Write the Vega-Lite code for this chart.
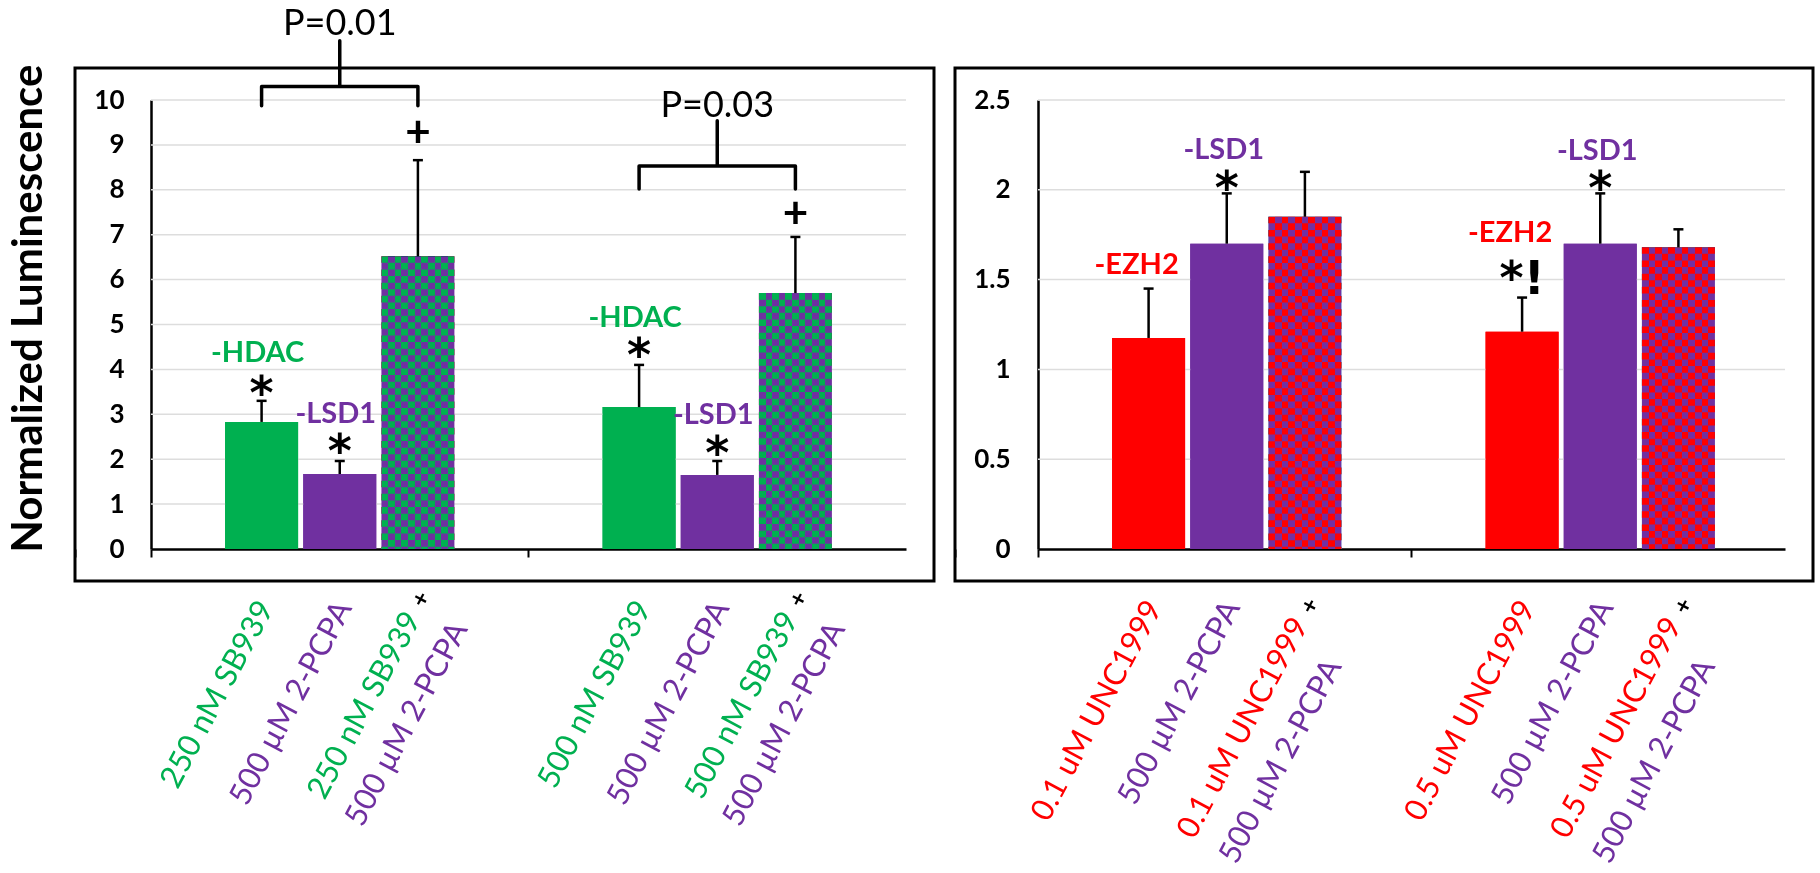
{
"$schema": "https://vega.github.io/schema/vega-lite/v6.json",
"background": "white",
"padding": {"left": 6, "top": 4, "right": 0, "bottom": 0},
"config": {"view": {"stroke": "black", "strokeWidth": 3}, "font": "Lato"},
"datasets": {
 "barsL": [
  {"group": "250 nM", "bar": "inhibitor", "kind": "sb", "value": 2.83, "upper": 3.3},
  {"group": "250 nM", "bar": "pcpa", "kind": "pcpa", "value": 1.67, "upper": 1.96},
  {"group": "250 nM", "bar": "combo", "kind": "combo", "value": 6.52, "upper": 8.66},
  {"group": "500 nM", "bar": "inhibitor", "kind": "sb", "value": 3.16, "upper": 4.1},
  {"group": "500 nM", "bar": "pcpa", "kind": "pcpa", "value": 1.65, "upper": 1.96},
  {"group": "500 nM", "bar": "combo", "kind": "combo", "value": 5.7, "upper": 6.95}
 ],
 "barsR": [
  {"group": "0.1 uM", "bar": "inhibitor", "kind": "unc", "value": 1.175, "upper": 1.45},
  {"group": "0.1 uM", "bar": "pcpa", "kind": "pcpa", "value": 1.7, "upper": 1.98},
  {"group": "0.1 uM", "bar": "combo", "kind": "combo", "value": 1.85, "upper": 2.1},
  {"group": "0.5 uM", "bar": "inhibitor", "kind": "unc", "value": 1.21, "upper": 1.4},
  {"group": "0.5 uM", "bar": "pcpa", "kind": "pcpa", "value": 1.7, "upper": 1.98},
  {"group": "0.5 uM", "bar": "combo", "kind": "combo", "value": 1.68, "upper": 1.78}
 ],
 "gridL": [{"tick": 1}, {"tick": 2}, {"tick": 3}, {"tick": 4}, {"tick": 5}, {"tick": 6}, {"tick": 7}, {"tick": 8}, {"tick": 9}, {"tick": 10}],
 "gridR": [{"tick": 0.5}, {"tick": 1}, {"tick": 1.5}, {"tick": 2}, {"tick": 2.5}],
 "annL": [
  {"group": "250 nM", "bar": "inhibitor", "y": 4.39, "label": "-HDAC", "role": "tag", "kind": "sb"},
  {"group": "250 nM", "bar": "inhibitor", "y": 3.67, "label": "*", "role": "star", "kind": "black"},
  {"group": "250 nM", "bar": "pcpa", "y": 3.03, "label": "-LSD1", "role": "tag", "kind": "pcpa"},
  {"group": "250 nM", "bar": "pcpa", "y": 2.38, "label": "*", "role": "star", "kind": "black"},
  {"group": "250 nM", "bar": "combo", "y": 9.31, "label": "+", "role": "plus", "kind": "black"},
  {"group": "500 nM", "bar": "inhibitor", "y": 5.17, "label": "-HDAC", "role": "tag", "kind": "sb"},
  {"group": "500 nM", "bar": "inhibitor", "y": 4.52, "label": "*", "role": "star", "kind": "black"},
  {"group": "500 nM", "bar": "pcpa", "y": 3.0, "label": "-LSD1", "role": "tag", "kind": "pcpa"},
  {"group": "500 nM", "bar": "pcpa", "y": 2.34, "label": "*", "role": "star", "kind": "black"},
  {"group": "500 nM", "bar": "combo", "y": 7.5, "label": "+", "role": "plus", "kind": "black"},
  {"group": "250 nM", "bar": "pcpa", "y": 11.73, "label": "P=0.01", "role": "p", "kind": "black"},
  {"group": "500 nM", "bar": "pcpa", "y": 9.91, "label": "P=0.03", "role": "p", "kind": "black"}
 ],
 "annR": [
  {"group": "0.1 uM", "bar": "inhibitor", "y": 1.587, "label": "-EZH2", "role": "tag", "kind": "unc"},
  {"group": "0.1 uM", "bar": "pcpa", "y": 2.227, "label": "-LSD1", "role": "tag", "kind": "pcpa"},
  {"group": "0.1 uM", "bar": "pcpa", "y": 2.06, "label": "*", "role": "star", "kind": "black"},
  {"group": "0.5 uM", "bar": "inhibitor", "y": 1.765, "label": "-EZH2", "role": "tag", "kind": "unc"},
  {"group": "0.5 uM", "bar": "inhibitor", "y": 1.56, "label": "*!", "role": "star", "kind": "black"},
  {"group": "0.5 uM", "bar": "pcpa", "y": 2.22, "label": "-LSD1", "role": "tag", "kind": "pcpa"},
  {"group": "0.5 uM", "bar": "pcpa", "y": 2.06, "label": "*", "role": "star", "kind": "black"}
 ],
 "bracketsL": [
  {"id": "p1", "seq": 1, "group": "250 nM", "bar": "inhibitor", "y": 9.87},
  {"id": "p1", "seq": 2, "group": "250 nM", "bar": "inhibitor", "y": 10.3},
  {"id": "p1", "seq": 3, "group": "250 nM", "bar": "pcpa", "y": 10.3},
  {"id": "p1", "seq": 4, "group": "250 nM", "bar": "pcpa", "y": 11.32},
  {"id": "p1", "seq": 5, "group": "250 nM", "bar": "pcpa", "y": 10.3},
  {"id": "p1", "seq": 6, "group": "250 nM", "bar": "combo", "y": 10.3},
  {"id": "p1", "seq": 7, "group": "250 nM", "bar": "combo", "y": 9.87},
  {"id": "p2", "seq": 1, "group": "500 nM", "bar": "inhibitor", "y": 8.02},
  {"id": "p2", "seq": 2, "group": "500 nM", "bar": "inhibitor", "y": 8.53},
  {"id": "p2", "seq": 3, "group": "500 nM", "bar": "pcpa", "y": 8.53},
  {"id": "p2", "seq": 4, "group": "500 nM", "bar": "pcpa", "y": 9.54},
  {"id": "p2", "seq": 5, "group": "500 nM", "bar": "pcpa", "y": 8.53},
  {"id": "p2", "seq": 6, "group": "500 nM", "bar": "combo", "y": 8.53},
  {"id": "p2", "seq": 7, "group": "500 nM", "bar": "combo", "y": 8.02}
 ],
 "labelsL": [
  {"group": "250 nM", "bar": "inhibitor", "line": "single", "text": "250 nM SB939", "kind": "sb"},
  {"group": "250 nM", "bar": "pcpa", "line": "single", "text": "500 µM 2-PCPA", "kind": "pcpa"},
  {"group": "250 nM", "bar": "combo", "line": "first", "text": "250 nM SB939", "kind": "sb"},
  {"group": "250 nM", "bar": "combo", "line": "plus", "text": "+", "kind": "black"},
  {"group": "250 nM", "bar": "combo", "line": "second", "text": "500 µM 2-PCPA", "kind": "pcpa"},
  {"group": "500 nM", "bar": "inhibitor", "line": "single", "text": "500 nM SB939", "kind": "sb"},
  {"group": "500 nM", "bar": "pcpa", "line": "single", "text": "500 µM 2-PCPA", "kind": "pcpa"},
  {"group": "500 nM", "bar": "combo", "line": "first", "text": "500 nM SB939", "kind": "sb"},
  {"group": "500 nM", "bar": "combo", "line": "plus", "text": "+", "kind": "black"},
  {"group": "500 nM", "bar": "combo", "line": "second", "text": "500 µM 2-PCPA", "kind": "pcpa"}
 ],
 "labelsR": [
  {"group": "0.1 uM", "bar": "inhibitor", "line": "single", "text": "0.1 uM UNC1999", "kind": "unc"},
  {"group": "0.1 uM", "bar": "pcpa", "line": "single", "text": "500 µM 2-PCPA", "kind": "pcpa"},
  {"group": "0.1 uM", "bar": "combo", "line": "first", "text": "0.1 uM UNC1999", "kind": "unc"},
  {"group": "0.1 uM", "bar": "combo", "line": "plus", "text": "+", "kind": "black"},
  {"group": "0.1 uM", "bar": "combo", "line": "second", "text": "500 µM 2-PCPA", "kind": "pcpa"},
  {"group": "0.5 uM", "bar": "inhibitor", "line": "single", "text": "0.5 uM UNC1999", "kind": "unc"},
  {"group": "0.5 uM", "bar": "pcpa", "line": "single", "text": "500 µM 2-PCPA", "kind": "pcpa"},
  {"group": "0.5 uM", "bar": "combo", "line": "first", "text": "0.5 uM UNC1999", "kind": "unc"},
  {"group": "0.5 uM", "bar": "combo", "line": "plus", "text": "+", "kind": "black"},
  {"group": "0.5 uM", "bar": "combo", "line": "second", "text": "500 µM 2-PCPA", "kind": "pcpa"}
 ]
},
"hconcat": [
 {
  "width": 859, "height": 513,
  "layer": [
   {"data": {"name": "barsL"}, "transform": [{"filter": "datum.bar !== 'combo'"}],
    "mark": {"type": "bar", "width": 73},
    "encoding": {
     "x": {"field": "group", "type": "nominal", "scale": {"domain": ["250 nM", "500 nM"], "range": [76, 831], "paddingInner": 0, "paddingOuter": 0},
       "axis": {"title": null, "labels": false, "domainColor": "black", "domainWidth": 2.5, "ticks": true, "tickColor": "black", "tickWidth": 2, "tickSize": 8, "bandPosition": 0, "tickExtra": true, "offset": -32, "grid": false}},
     "xOffset": {"field": "bar", "type": "nominal", "scale": {"domain": ["inhibitor", "pcpa", "combo"], "paddingInner": 0.07, "paddingOuter": 0.95}},
     "y": {"field": "value", "type": "quantitative", "scale": {"domain": [0, 10], "range": [481, 32], "nice": false, "zero": false},
       "axis": {"title": "Normalized Luminescence", "titleFont": "Lato", "titleFontSize": 42, "titleFontWeight": "bold", "titleColor": "black", "titlePadding": 43, "titleY": 240, "values": [0, 1, 2, 3, 4, 5, 6, 7, 8, 9, 10], "format": "d", "labelFont": "Lato", "labelFontSize": 26, "labelFontWeight": "bold", "labelColor": "black", "labelPadding": 27, "ticks": false, "tickSize": 0, "domainColor": "black", "domainWidth": 2.5, "grid": false, "offset": -76}},
     "color": {"field": "kind", "type": "nominal", "scale": {"domain": ["sb", "unc", "pcpa", "black"], "range": ["#00B050", "#FF0000", "#7030A0", "#000000"]}, "legend": null}}},
   {"data": {"name": "gridL"},
    "mark": {"type": "rule", "stroke": "#DDDDDD", "strokeWidth": 1.5},
    "encoding": {
     "x": {"datum": "250 nM", "type": "nominal", "bandPosition": 0, "scale": {"domain": ["250 nM", "500 nM"], "range": [76, 831], "paddingInner": 0, "paddingOuter": 0}},
     "x2": {"datum": "500 nM", "bandPosition": 1},
     "y": {"field": "tick", "type": "quantitative", "scale": {"domain": [0, 10], "range": [481, 32], "nice": false, "zero": false}}}},
   {"data": {"name": "barsL"}, "transform": [{"filter": "datum.bar !== 'combo'"}],
    "mark": {"type": "bar", "width": 73},
    "encoding": {
     "x": {"field": "group", "type": "nominal", "scale": {"domain": ["250 nM", "500 nM"], "range": [76, 831], "paddingInner": 0, "paddingOuter": 0}},
     "xOffset": {"field": "bar", "type": "nominal", "scale": {"domain": ["inhibitor", "pcpa", "combo"], "paddingInner": 0.07, "paddingOuter": 0.95}},
     "y": {"field": "value", "type": "quantitative", "scale": {"domain": [0, 10], "range": [481, 32], "nice": false, "zero": false}},
     "color": {"field": "kind", "type": "nominal", "scale": {"domain": ["sb", "unc", "pcpa", "black"], "range": ["#00B050", "#FF0000", "#7030A0", "#000000"]}, "legend": null}}},
   {"data": {"name": "barsL"}, "transform": [{"filter": "datum.bar === 'combo'"}],
    "mark": {"type": "bar", "width": 73, "fill": {"gradient": "linear", "x1": 0, "y1": 0, "x2": 1, "y2": 0, "stops": [
      {"offset": 0, "color": "#7030A0"}, {"offset": 0.0909, "color": "#7030A0"}, {"offset": 0.0909, "color": "#00B050"}, {"offset": 0.1818, "color": "#00B050"},
      {"offset": 0.1818, "color": "#7030A0"}, {"offset": 0.2727, "color": "#7030A0"}, {"offset": 0.2727, "color": "#00B050"}, {"offset": 0.3636, "color": "#00B050"},
      {"offset": 0.3636, "color": "#7030A0"}, {"offset": 0.4545, "color": "#7030A0"}, {"offset": 0.4545, "color": "#00B050"}, {"offset": 0.5455, "color": "#00B050"},
      {"offset": 0.5455, "color": "#7030A0"}, {"offset": 0.6364, "color": "#7030A0"}, {"offset": 0.6364, "color": "#00B050"}, {"offset": 0.7273, "color": "#00B050"},
      {"offset": 0.7273, "color": "#7030A0"}, {"offset": 0.8182, "color": "#7030A0"}, {"offset": 0.8182, "color": "#00B050"}, {"offset": 0.9091, "color": "#00B050"},
      {"offset": 0.9091, "color": "#7030A0"}, {"offset": 1, "color": "#7030A0"}]}},
    "encoding": {
     "x": {"field": "group", "type": "nominal", "scale": {"domain": ["250 nM", "500 nM"], "range": [76, 831], "paddingInner": 0, "paddingOuter": 0}},
     "xOffset": {"field": "bar", "type": "nominal", "scale": {"domain": ["inhibitor", "pcpa", "combo"], "paddingInner": 0.07, "paddingOuter": 0.95}},
     "y": {"field": "value", "type": "quantitative", "scale": {"domain": [0, 10], "range": [481, 32], "nice": false, "zero": false}}}},
   {"data": {"name": "barsL"}, "transform": [{"filter": "datum.bar === 'combo'"}],
    "mark": {"type": "rule", "stroke": "#70E0F0", "strokeWidth": 73, "strokeDash": [6.6, 6.6], "blend": "difference"},
    "encoding": {
     "x": {"field": "group", "type": "nominal", "scale": {"domain": ["250 nM", "500 nM"], "range": [76, 831], "paddingInner": 0, "paddingOuter": 0}},
     "xOffset": {"field": "bar", "type": "nominal", "scale": {"domain": ["inhibitor", "pcpa", "combo"], "paddingInner": 0.07, "paddingOuter": 0.95}},
     "y": {"field": "value", "type": "quantitative", "scale": {"domain": [0, 10], "range": [481, 32], "nice": false, "zero": false}},
     "y2": {"datum": 0}}},
   {"data": {"name": "barsL"},
    "mark": {"type": "rule", "stroke": "black", "strokeWidth": 2.5},
    "encoding": {
     "x": {"field": "group", "type": "nominal", "scale": {"domain": ["250 nM", "500 nM"], "range": [76, 831], "paddingInner": 0, "paddingOuter": 0}},
     "xOffset": {"field": "bar", "type": "nominal", "scale": {"domain": ["inhibitor", "pcpa", "combo"], "paddingInner": 0.07, "paddingOuter": 0.95}},
     "y": {"field": "value", "type": "quantitative", "scale": {"domain": [0, 10], "range": [481, 32], "nice": false, "zero": false}},
     "y2": {"field": "upper"}}},
   {"data": {"name": "barsL"},
    "mark": {"type": "tick", "color": "black", "size": 10, "thickness": 2.5, "orient": "horizontal", "opacity": 1},
    "encoding": {
     "x": {"field": "group", "type": "nominal", "scale": {"domain": ["250 nM", "500 nM"], "range": [76, 831], "paddingInner": 0, "paddingOuter": 0}},
     "xOffset": {"field": "bar", "type": "nominal", "scale": {"domain": ["inhibitor", "pcpa", "combo"], "paddingInner": 0.07, "paddingOuter": 0.95}},
     "y": {"field": "upper", "type": "quantitative", "scale": {"domain": [0, 10], "range": [481, 32], "nice": false, "zero": false}}}},
   {"data": {"name": "bracketsL"},
    "mark": {"type": "line", "color": "black", "strokeWidth": 3.5, "strokeJoin": "round", "strokeCap": "round"},
    "encoding": {
     "x": {"field": "group", "type": "nominal", "scale": {"domain": ["250 nM", "500 nM"], "range": [76, 831], "paddingInner": 0, "paddingOuter": 0}},
     "xOffset": {"field": "bar", "type": "nominal", "scale": {"domain": ["inhibitor", "pcpa", "combo"], "paddingInner": 0.07, "paddingOuter": 0.95}},
     "y": {"field": "y", "type": "quantitative", "scale": {"domain": [0, 10], "range": [481, 32], "nice": false, "zero": false}},
     "detail": {"field": "id"},
     "order": {"field": "seq", "type": "quantitative"}}},
   {"data": {"name": "annL"}, "transform": [{"filter": "datum.role === 'tag'"}],
    "mark": {"type": "text", "font": "Lato", "fontSize": 29, "fontWeight": "bold", "baseline": "alphabetic", "dx": -4, "dy": 10},
    "encoding": {
     "x": {"field": "group", "type": "nominal", "scale": {"domain": ["250 nM", "500 nM"], "range": [76, 831], "paddingInner": 0, "paddingOuter": 0}},
     "xOffset": {"field": "bar", "type": "nominal", "scale": {"domain": ["inhibitor", "pcpa", "combo"], "paddingInner": 0.07, "paddingOuter": 0.95}},
     "y": {"field": "y", "type": "quantitative", "scale": {"domain": [0, 10], "range": [481, 32], "nice": false, "zero": false}},
     "text": {"field": "label"},
     "color": {"field": "kind", "type": "nominal", "scale": {"domain": ["sb", "unc", "pcpa", "black"], "range": ["#00B050", "#FF0000", "#7030A0", "#000000"]}, "legend": null}}},
   {"data": {"name": "annL"}, "transform": [{"filter": "datum.role === 'star'"}],
    "mark": {"type": "text", "font": "DejaVu Sans", "fontSize": 46, "fontWeight": "bold", "baseline": "alphabetic", "dy": 25, "color": "black"},
    "encoding": {
     "x": {"field": "group", "type": "nominal", "scale": {"domain": ["250 nM", "500 nM"], "range": [76, 831], "paddingInner": 0, "paddingOuter": 0}},
     "xOffset": {"field": "bar", "type": "nominal", "scale": {"domain": ["inhibitor", "pcpa", "combo"], "paddingInner": 0.07, "paddingOuter": 0.95}},
     "y": {"field": "y", "type": "quantitative", "scale": {"domain": [0, 10], "range": [481, 32], "nice": false, "zero": false}},
     "text": {"field": "label"}}},
   {"data": {"name": "annL"}, "transform": [{"filter": "datum.role === 'plus'"}],
    "mark": {"type": "text", "font": "Lato", "fontSize": 44, "fontWeight": "bold", "baseline": "alphabetic", "dy": 16, "color": "black"},
    "encoding": {
     "x": {"field": "group", "type": "nominal", "scale": {"domain": ["250 nM", "500 nM"], "range": [76, 831], "paddingInner": 0, "paddingOuter": 0}},
     "xOffset": {"field": "bar", "type": "nominal", "scale": {"domain": ["inhibitor", "pcpa", "combo"], "paddingInner": 0.07, "paddingOuter": 0.95}},
     "y": {"field": "y", "type": "quantitative", "scale": {"domain": [0, 10], "range": [481, 32], "nice": false, "zero": false}},
     "text": {"field": "label"}}},
   {"data": {"name": "annL"}, "transform": [{"filter": "datum.role === 'p'"}],
    "mark": {"type": "text", "font": "Lato", "fontSize": 36, "baseline": "alphabetic", "dy": 13, "color": "black"},
    "encoding": {
     "x": {"field": "group", "type": "nominal", "scale": {"domain": ["250 nM", "500 nM"], "range": [76, 831], "paddingInner": 0, "paddingOuter": 0}},
     "xOffset": {"field": "bar", "type": "nominal", "scale": {"domain": ["inhibitor", "pcpa", "combo"], "paddingInner": 0.07, "paddingOuter": 0.95}},
     "y": {"field": "y", "type": "quantitative", "scale": {"domain": [0, 10], "range": [481, 32], "nice": false, "zero": false}},
     "text": {"field": "label"}}},
   {"data": {"name": "labelsL"}, "transform": [{"filter": "datum.line === 'single'"}],
    "mark": {"type": "text", "font": "Lato", "fontSize": 31, "angle": 298, "align": "right", "baseline": "middle", "dx": -46, "dy": 30},
    "encoding": {
     "x": {"field": "group", "type": "nominal", "scale": {"domain": ["250 nM", "500 nM"], "range": [76, 831], "paddingInner": 0, "paddingOuter": 0}},
     "xOffset": {"field": "bar", "type": "nominal", "scale": {"domain": ["inhibitor", "pcpa", "combo"], "paddingInner": 0.07, "paddingOuter": 0.95}},
     "y": {"datum": 0, "type": "quantitative", "scale": {"domain": [0, 10], "range": [481, 32], "nice": false, "zero": false}},
     "text": {"field": "text"},
     "color": {"field": "kind", "type": "nominal", "scale": {"domain": ["sb", "unc", "pcpa", "black"], "range": ["#00B050", "#FF0000", "#7030A0", "#000000"]}, "legend": null}}},
   {"data": {"name": "labelsL"}, "transform": [{"filter": "datum.line === 'first'"}],
    "mark": {"type": "text", "font": "Lato", "fontSize": 31, "angle": 298, "align": "right", "baseline": "middle", "dx": -60, "dy": 27},
    "encoding": {
     "x": {"field": "group", "type": "nominal", "scale": {"domain": ["250 nM", "500 nM"], "range": [76, 831], "paddingInner": 0, "paddingOuter": 0}},
     "xOffset": {"field": "bar", "type": "nominal", "scale": {"domain": ["inhibitor", "pcpa", "combo"], "paddingInner": 0.07, "paddingOuter": 0.95}},
     "y": {"datum": 0, "type": "quantitative", "scale": {"domain": [0, 10], "range": [481, 32], "nice": false, "zero": false}},
     "text": {"field": "text"},
     "color": {"field": "kind", "type": "nominal", "scale": {"domain": ["sb", "unc", "pcpa", "black"], "range": ["#00B050", "#FF0000", "#7030A0", "#000000"]}, "legend": null}}},
   {"data": {"name": "labelsL"}, "transform": [{"filter": "datum.line === 'plus'"}],
    "mark": {"type": "text", "font": "Lato", "fontSize": 24, "fontWeight": "bold", "angle": 298, "align": "center", "baseline": "middle", "dx": -43, "dy": 27, "color": "black"},
    "encoding": {
     "x": {"field": "group", "type": "nominal", "scale": {"domain": ["250 nM", "500 nM"], "range": [76, 831], "paddingInner": 0, "paddingOuter": 0}},
     "xOffset": {"field": "bar", "type": "nominal", "scale": {"domain": ["inhibitor", "pcpa", "combo"], "paddingInner": 0.07, "paddingOuter": 0.95}},
     "y": {"datum": 0, "type": "quantitative", "scale": {"domain": [0, 10], "range": [481, 32], "nice": false, "zero": false}},
     "text": {"field": "text"}}},
   {"data": {"name": "labelsL"}, "transform": [{"filter": "datum.line === 'second'"}],
    "mark": {"type": "text", "font": "Lato", "fontSize": 31, "angle": 298, "align": "right", "baseline": "middle", "dx": -47, "dy": 73},
    "encoding": {
     "x": {"field": "group", "type": "nominal", "scale": {"domain": ["250 nM", "500 nM"], "range": [76, 831], "paddingInner": 0, "paddingOuter": 0}},
     "xOffset": {"field": "bar", "type": "nominal", "scale": {"domain": ["inhibitor", "pcpa", "combo"], "paddingInner": 0.07, "paddingOuter": 0.95}},
     "y": {"datum": 0, "type": "quantitative", "scale": {"domain": [0, 10], "range": [481, 32], "nice": false, "zero": false}},
     "text": {"field": "text"},
     "color": {"field": "kind", "type": "nominal", "scale": {"domain": ["sb", "unc", "pcpa", "black"], "range": ["#00B050", "#FF0000", "#7030A0", "#000000"]}, "legend": null}}}
  ]
 },
 {
  "width": 858, "height": 513,
  "layer": [
   {"data": {"name": "barsR"}, "transform": [{"filter": "datum.bar !== 'combo'"}],
    "mark": {"type": "bar", "width": 73},
    "encoding": {
     "x": {"field": "group", "type": "nominal", "scale": {"domain": ["0.1 uM", "0.5 uM"], "range": [83, 830], "paddingInner": 0, "paddingOuter": 0},
       "axis": {"title": null, "labels": false, "domainColor": "black", "domainWidth": 2.5, "ticks": true, "tickColor": "black", "tickWidth": 2, "tickSize": 8, "bandPosition": 0, "tickExtra": true, "offset": -32, "grid": false}},
     "xOffset": {"field": "bar", "type": "nominal", "scale": {"domain": ["inhibitor", "pcpa", "combo"], "paddingInner": 0.07, "paddingOuter": 0.95}},
     "y": {"field": "value", "type": "quantitative", "scale": {"domain": [0, 2.5], "range": [481, 32], "nice": false, "zero": false},
       "axis": {"title": null, "values": [0, 0.5, 1, 1.5, 2, 2.5], "format": ".1~f", "labelFont": "Lato", "labelFontSize": 26, "labelFontWeight": "bold", "labelColor": "black", "labelPadding": 28, "ticks": false, "tickSize": 0, "domainColor": "black", "domainWidth": 2.5, "grid": false, "offset": -83}},
     "color": {"field": "kind", "type": "nominal", "scale": {"domain": ["sb", "unc", "pcpa", "black"], "range": ["#00B050", "#FF0000", "#7030A0", "#000000"]}, "legend": null}}},
   {"data": {"name": "gridR"},
    "mark": {"type": "rule", "stroke": "#DDDDDD", "strokeWidth": 1.5},
    "encoding": {
     "x": {"datum": "0.1 uM", "type": "nominal", "bandPosition": 0, "scale": {"domain": ["0.1 uM", "0.5 uM"], "range": [83, 830], "paddingInner": 0, "paddingOuter": 0}},
     "x2": {"datum": "0.5 uM", "bandPosition": 1},
     "y": {"field": "tick", "type": "quantitative", "scale": {"domain": [0, 2.5], "range": [481, 32], "nice": false, "zero": false}}}},
   {"data": {"name": "barsR"}, "transform": [{"filter": "datum.bar !== 'combo'"}],
    "mark": {"type": "bar", "width": 73},
    "encoding": {
     "x": {"field": "group", "type": "nominal", "scale": {"domain": ["0.1 uM", "0.5 uM"], "range": [83, 830], "paddingInner": 0, "paddingOuter": 0}},
     "xOffset": {"field": "bar", "type": "nominal", "scale": {"domain": ["inhibitor", "pcpa", "combo"], "paddingInner": 0.07, "paddingOuter": 0.95}},
     "y": {"field": "value", "type": "quantitative", "scale": {"domain": [0, 2.5], "range": [481, 32], "nice": false, "zero": false}},
     "color": {"field": "kind", "type": "nominal", "scale": {"domain": ["sb", "unc", "pcpa", "black"], "range": ["#00B050", "#FF0000", "#7030A0", "#000000"]}, "legend": null}}},
   {"data": {"name": "barsR"}, "transform": [{"filter": "datum.bar === 'combo'"}],
    "mark": {"type": "bar", "width": 73, "fill": {"gradient": "linear", "x1": 0, "y1": 0, "x2": 1, "y2": 0, "stops": [
      {"offset": 0, "color": "#00FFFF"}, {"offset": 0.0909, "color": "#00FFFF"}, {"offset": 0.0909, "color": "#FF0000"}, {"offset": 0.1818, "color": "#FF0000"},
      {"offset": 0.1818, "color": "#00FFFF"}, {"offset": 0.2727, "color": "#00FFFF"}, {"offset": 0.2727, "color": "#FF0000"}, {"offset": 0.3636, "color": "#FF0000"},
      {"offset": 0.3636, "color": "#00FFFF"}, {"offset": 0.4545, "color": "#00FFFF"}, {"offset": 0.4545, "color": "#FF0000"}, {"offset": 0.5455, "color": "#FF0000"},
      {"offset": 0.5455, "color": "#00FFFF"}, {"offset": 0.6364, "color": "#00FFFF"}, {"offset": 0.6364, "color": "#FF0000"}, {"offset": 0.7273, "color": "#FF0000"},
      {"offset": 0.7273, "color": "#00FFFF"}, {"offset": 0.8182, "color": "#00FFFF"}, {"offset": 0.8182, "color": "#FF0000"}, {"offset": 0.9091, "color": "#FF0000"},
      {"offset": 0.9091, "color": "#00FFFF"}, {"offset": 1, "color": "#00FFFF"}]}},
    "encoding": {
     "x": {"field": "group", "type": "nominal", "scale": {"domain": ["0.1 uM", "0.5 uM"], "range": [83, 830], "paddingInner": 0, "paddingOuter": 0}},
     "xOffset": {"field": "bar", "type": "nominal", "scale": {"domain": ["inhibitor", "pcpa", "combo"], "paddingInner": 0.07, "paddingOuter": 0.95}},
     "y": {"field": "value", "type": "quantitative", "scale": {"domain": [0, 2.5], "range": [481, 32], "nice": false, "zero": false}}}},
   {"data": {"name": "barsR"}, "transform": [{"filter": "datum.bar === 'combo'"}],
    "mark": {"type": "rule", "stroke": "#FFFFFF", "strokeWidth": 73, "strokeDash": [6.6, 6.6], "blend": "difference"},
    "encoding": {
     "x": {"field": "group", "type": "nominal", "scale": {"domain": ["0.1 uM", "0.5 uM"], "range": [83, 830], "paddingInner": 0, "paddingOuter": 0}},
     "xOffset": {"field": "bar", "type": "nominal", "scale": {"domain": ["inhibitor", "pcpa", "combo"], "paddingInner": 0.07, "paddingOuter": 0.95}},
     "y": {"field": "value", "type": "quantitative", "scale": {"domain": [0, 2.5], "range": [481, 32], "nice": false, "zero": false}},
     "y2": {"datum": 0}}},
   {"data": {"name": "barsR"}, "transform": [{"filter": "datum.bar === 'combo'"}],
    "mark": {"type": "bar", "width": 73, "fill": "#B81850", "blend": "hard-light"},
    "encoding": {
     "x": {"field": "group", "type": "nominal", "scale": {"domain": ["0.1 uM", "0.5 uM"], "range": [83, 830], "paddingInner": 0, "paddingOuter": 0}},
     "xOffset": {"field": "bar", "type": "nominal", "scale": {"domain": ["inhibitor", "pcpa", "combo"], "paddingInner": 0.07, "paddingOuter": 0.95}},
     "y": {"field": "value", "type": "quantitative", "scale": {"domain": [0, 2.5], "range": [481, 32], "nice": false, "zero": false}}}},
   {"data": {"name": "barsR"},
    "mark": {"type": "rule", "stroke": "black", "strokeWidth": 2.5},
    "encoding": {
     "x": {"field": "group", "type": "nominal", "scale": {"domain": ["0.1 uM", "0.5 uM"], "range": [83, 830], "paddingInner": 0, "paddingOuter": 0}},
     "xOffset": {"field": "bar", "type": "nominal", "scale": {"domain": ["inhibitor", "pcpa", "combo"], "paddingInner": 0.07, "paddingOuter": 0.95}},
     "y": {"field": "value", "type": "quantitative", "scale": {"domain": [0, 2.5], "range": [481, 32], "nice": false, "zero": false}},
     "y2": {"field": "upper"}}},
   {"data": {"name": "barsR"},
    "mark": {"type": "tick", "color": "black", "size": 10, "thickness": 2.5, "orient": "horizontal", "opacity": 1},
    "encoding": {
     "x": {"field": "group", "type": "nominal", "scale": {"domain": ["0.1 uM", "0.5 uM"], "range": [83, 830], "paddingInner": 0, "paddingOuter": 0}},
     "xOffset": {"field": "bar", "type": "nominal", "scale": {"domain": ["inhibitor", "pcpa", "combo"], "paddingInner": 0.07, "paddingOuter": 0.95}},
     "y": {"field": "upper", "type": "quantitative", "scale": {"domain": [0, 2.5], "range": [481, 32], "nice": false, "zero": false}}}},
   {"data": {"name": "annR"}, "transform": [{"filter": "datum.role === 'tag' && datum.kind === 'unc'"}],
    "mark": {"type": "text", "font": "Lato", "fontSize": 29, "fontWeight": "bold", "baseline": "alphabetic", "dx": -12, "dy": 10, "color": "#FF0000"},
    "encoding": {
     "x": {"field": "group", "type": "nominal", "scale": {"domain": ["0.1 uM", "0.5 uM"], "range": [83, 830], "paddingInner": 0, "paddingOuter": 0}},
     "xOffset": {"field": "bar", "type": "nominal", "scale": {"domain": ["inhibitor", "pcpa", "combo"], "paddingInner": 0.07, "paddingOuter": 0.95}},
     "y": {"field": "y", "type": "quantitative", "scale": {"domain": [0, 2.5], "range": [481, 32], "nice": false, "zero": false}},
     "text": {"field": "label"}}},
   {"data": {"name": "annR"}, "transform": [{"filter": "datum.role === 'tag' && datum.kind === 'pcpa'"}],
    "mark": {"type": "text", "font": "Lato", "fontSize": 29, "fontWeight": "bold", "baseline": "alphabetic", "dx": -3, "dy": 10, "color": "#7030A0"},
    "encoding": {
     "x": {"field": "group", "type": "nominal", "scale": {"domain": ["0.1 uM", "0.5 uM"], "range": [83, 830], "paddingInner": 0, "paddingOuter": 0}},
     "xOffset": {"field": "bar", "type": "nominal", "scale": {"domain": ["inhibitor", "pcpa", "combo"], "paddingInner": 0.07, "paddingOuter": 0.95}},
     "y": {"field": "y", "type": "quantitative", "scale": {"domain": [0, 2.5], "range": [481, 32], "nice": false, "zero": false}},
     "text": {"field": "label"}}},
   {"data": {"name": "annR"}, "transform": [{"filter": "datum.role === 'star'"}],
    "mark": {"type": "text", "font": "DejaVu Sans", "fontSize": 46, "fontWeight": "bold", "baseline": "alphabetic", "dy": 25, "color": "black"},
    "encoding": {
     "x": {"field": "group", "type": "nominal", "scale": {"domain": ["0.1 uM", "0.5 uM"], "range": [83, 830], "paddingInner": 0, "paddingOuter": 0}},
     "xOffset": {"field": "bar", "type": "nominal", "scale": {"domain": ["inhibitor", "pcpa", "combo"], "paddingInner": 0.07, "paddingOuter": 0.95}},
     "y": {"field": "y", "type": "quantitative", "scale": {"domain": [0, 2.5], "range": [481, 32], "nice": false, "zero": false}},
     "text": {"field": "label"}}},
   {"data": {"name": "labelsR"}, "transform": [{"filter": "datum.line === 'single'"}],
    "mark": {"type": "text", "font": "Lato", "fontSize": 31, "angle": 298, "align": "right", "baseline": "middle", "dx": -45, "dy": 31},
    "encoding": {
     "x": {"field": "group", "type": "nominal", "scale": {"domain": ["0.1 uM", "0.5 uM"], "range": [83, 830], "paddingInner": 0, "paddingOuter": 0}},
     "xOffset": {"field": "bar", "type": "nominal", "scale": {"domain": ["inhibitor", "pcpa", "combo"], "paddingInner": 0.07, "paddingOuter": 0.95}},
     "y": {"datum": 0, "type": "quantitative", "scale": {"domain": [0, 2.5], "range": [481, 32], "nice": false, "zero": false}},
     "text": {"field": "text"},
     "color": {"field": "kind", "type": "nominal", "scale": {"domain": ["sb", "unc", "pcpa", "black"], "range": ["#00B050", "#FF0000", "#7030A0", "#000000"]}, "legend": null}}},
   {"data": {"name": "labelsR"}, "transform": [{"filter": "datum.line === 'first'"}],
    "mark": {"type": "text", "font": "Lato", "fontSize": 31, "angle": 298, "align": "right", "baseline": "middle", "dx": -65, "dy": 30},
    "encoding": {
     "x": {"field": "group", "type": "nominal", "scale": {"domain": ["0.1 uM", "0.5 uM"], "range": [83, 830], "paddingInner": 0, "paddingOuter": 0}},
     "xOffset": {"field": "bar", "type": "nominal", "scale": {"domain": ["inhibitor", "pcpa", "combo"], "paddingInner": 0.07, "paddingOuter": 0.95}},
     "y": {"datum": 0, "type": "quantitative", "scale": {"domain": [0, 2.5], "range": [481, 32], "nice": false, "zero": false}},
     "text": {"field": "text"},
     "color": {"field": "kind", "type": "nominal", "scale": {"domain": ["sb", "unc", "pcpa", "black"], "range": ["#00B050", "#FF0000", "#7030A0", "#000000"]}, "legend": null}}},
   {"data": {"name": "labelsR"}, "transform": [{"filter": "datum.line === 'plus'"}],
    "mark": {"type": "text", "font": "Lato", "fontSize": 24, "fontWeight": "bold", "angle": 298, "align": "center", "baseline": "middle", "dx": -48, "dy": 32, "color": "black"},
    "encoding": {
     "x": {"field": "group", "type": "nominal", "scale": {"domain": ["0.1 uM", "0.5 uM"], "range": [83, 830], "paddingInner": 0, "paddingOuter": 0}},
     "xOffset": {"field": "bar", "type": "nominal", "scale": {"domain": ["inhibitor", "pcpa", "combo"], "paddingInner": 0.07, "paddingOuter": 0.95}},
     "y": {"datum": 0, "type": "quantitative", "scale": {"domain": [0, 2.5], "range": [481, 32], "nice": false, "zero": false}},
     "text": {"field": "text"}}},
   {"data": {"name": "labelsR"}, "transform": [{"filter": "datum.line === 'second'"}],
    "mark": {"type": "text", "font": "Lato", "fontSize": 31, "angle": 298, "align": "right", "baseline": "middle", "dx": -86, "dy": 79},
    "encoding": {
     "x": {"field": "group", "type": "nominal", "scale": {"domain": ["0.1 uM", "0.5 uM"], "range": [83, 830], "paddingInner": 0, "paddingOuter": 0}},
     "xOffset": {"field": "bar", "type": "nominal", "scale": {"domain": ["inhibitor", "pcpa", "combo"], "paddingInner": 0.07, "paddingOuter": 0.95}},
     "y": {"datum": 0, "type": "quantitative", "scale": {"domain": [0, 2.5], "range": [481, 32], "nice": false, "zero": false}},
     "text": {"field": "text"},
     "color": {"field": "kind", "type": "nominal", "scale": {"domain": ["sb", "unc", "pcpa", "black"], "range": ["#00B050", "#FF0000", "#7030A0", "#000000"]}, "legend": null}}}
  ]
 }
],
"spacing": 16
}
